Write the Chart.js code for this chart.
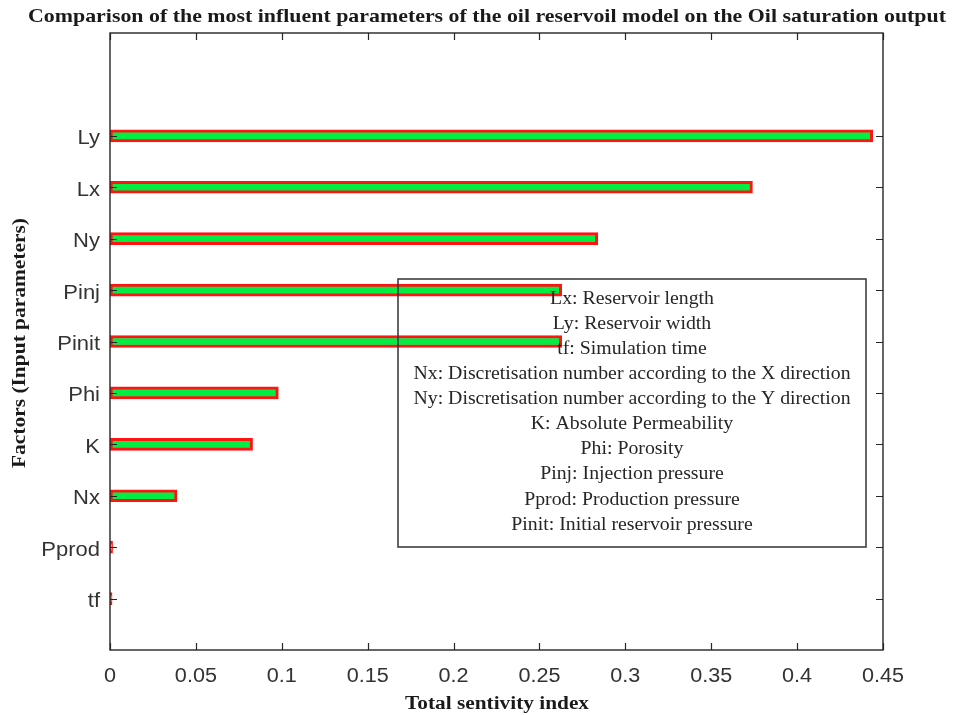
<!DOCTYPE html>
<html>
<head>
<meta charset="utf-8">
<script src="https://cdn.jsdelivr.net/npm/chart.js@4/dist/chart.umd.min.js"></script>
<style>
  html, body { margin: 0; padding: 0; background: #ffffff; }
  #wrap { width: 954px; height: 715px; position: relative; }
</style>
</head>
<body>
<div id="wrap"><canvas id="c" width="954" height="715"></canvas></div>
<script>
// Factors, top to bottom, and their total sensitivity indices
const factors = ['Ly', 'Lx', 'Ny', 'Pinj', 'Pinit', 'Phi', 'K', 'Nx', 'Pprod', 'tf'];
const totalIndex = [0.444, 0.374, 0.284, 0.263, 0.263, 0.098, 0.083, 0.039, 0.0015, 0.0012];
const xTicks = [0, 0.05, 0.1, 0.15, 0.2, 0.25, 0.3, 0.35, 0.4, 0.45];
const legendLines = [
  'Lx: Reservoir length',
  'Ly: Reservoir width',
  'tf: Simulation time',
  'Nx: Discretisation number according to the X direction',
  'Ny: Discretisation number according to the Y direction',
  'K: Absolute Permeability',
  'Phi: Porosity',
  'Pinj: Injection pressure',
  'Pprod: Production pressure',
  'Pinit: Initial reservoir pressure'
];
const titleText = 'Comparison of the most influent parameters of the oil reservoil model on the Oil saturation output';
const xTitle = 'Total sentivity index';
const yTitle = 'Factors (Input parameters)';

// Category axis runs 0..12 with the factors on slots 2..11
const labels = ['', ''].concat(factors, ['']);
const values = [null, null].concat(totalIndex, [null]);

const AXIS = '#262626';
const SERIF = '"Liberation Serif", "DejaVu Serif", serif';
const SANS = '"Liberation Sans", Arial, sans-serif';
const WIDEN = 1.1; // horizontal stretch of every label

// Draws text stretched horizontally, either to a given width or by a factor
function drawText(ctx, text, x, y, opts) {
  ctx.save();
  ctx.font = opts.font;
  ctx.fillStyle = opts.color;
  const w = ctx.measureText(text).width;
  const sx = opts.width ? opts.width / w : (opts.scale || 1);
  ctx.translate(x, y);
  if (opts.rotate) ctx.rotate(-Math.PI / 2);
  ctx.scale(sx, 1);
  ctx.textAlign = opts.align || 'center';
  ctx.textBaseline = 'middle';
  ctx.fillText(text, 0, 0);
  ctx.restore();
}

const decorations = {
  id: 'decorations',
  afterDatasetsDraw(chart) {
    const ctx = chart.ctx;
    const a = chart.chartArea;
    const xs = chart.scales.x, ys = chart.scales.y;
    ctx.save();
    // box outline
    ctx.strokeStyle = AXIS;
    ctx.lineWidth = 1.4;
    ctx.strokeRect(a.left, a.top, a.right - a.left, a.bottom - a.top);
    // inward ticks, mirrored on the opposite sides
    ctx.beginPath();
    xTicks.forEach(v => {
      const px = Math.round(xs.getPixelForValue(v)) + 0.5;
      ctx.moveTo(px, a.bottom); ctx.lineTo(px, a.bottom - 7);
      ctx.moveTo(px, a.top); ctx.lineTo(px, a.top + 7);
    });
    factors.forEach(f => {
      const py = Math.round(ys.getPixelForValue(labels.indexOf(f))) + 0.5;
      ctx.moveTo(a.left, py); ctx.lineTo(a.left + 7, py);
      ctx.moveTo(a.right, py); ctx.lineTo(a.right - 7, py);
    });
    ctx.lineWidth = 1.2;
    ctx.stroke();

    // tick labels
    xTicks.forEach(v => {
      drawText(ctx, String(v), xs.getPixelForValue(v), a.bottom + 26,
        { font: '20px ' + SANS, color: '#333333', scale: 1.08 });
    });
    factors.forEach(f => {
      drawText(ctx, f, 100, ys.getPixelForValue(labels.indexOf(f)) + 3,
        { font: '20px ' + SANS, color: '#333333', scale: WIDEN, align: 'right' });
    });

    // text box with the factor descriptions
    const bx = 398, by = 279, bw = 468, bh = 268;
    ctx.strokeStyle = '#333333';
    ctx.lineWidth = 1.5;
    ctx.strokeRect(bx, by, bw, bh);
    legendLines.forEach((t, i) => drawText(ctx, t, bx + bw / 2, 299 + i * 25.1,
      { font: '18px ' + SERIF, color: '#262626', scale: WIDEN }));

    // titles
    drawText(ctx, titleText, 487, 17, { font: 'bold 19px ' + SERIF, color: '#1a1a1a', width: 918 });
    drawText(ctx, xTitle, 497, 704, { font: 'bold 18px ' + SERIF, color: '#1a1a1a', width: 184 });
    drawText(ctx, yTitle, 20, 343, { font: 'bold 18px ' + SERIF, color: '#1a1a1a', width: 250, rotate: true });
    ctx.restore();
  }
};

new Chart(document.getElementById('c'), {
  type: 'bar',
  data: {
    labels: labels,
    datasets: [{
      data: values,
      backgroundColor: '#00ee44',
      borderColor: '#ff1414',
      borderWidth: 3,
      borderSkipped: false,
      barThickness: 12
    }]
  },
  options: {
    indexAxis: 'y',
    responsive: false,
    animation: false,
    events: [],
    layout: { padding: { top: 33, right: 71, left: 0, bottom: 0 } },
    plugins: { legend: { display: false }, title: { display: false }, tooltip: { enabled: false } },
    scales: {
      x: {
        type: 'linear',
        min: 0, max: 0.45,
        afterBuildTicks(s) { s.ticks = xTicks.map(v => ({ value: v })); },
        afterFit(s) { s.height = 65; },
        grid: { display: false },
        border: { display: false },
        ticks: { display: false }
      },
      y: {
        type: 'category',
        offset: false,
        afterFit(s) { s.width = 110; },
        grid: { display: false },
        border: { display: false },
        ticks: { display: false, autoSkip: false }
      }
    }
  },
  plugins: [decorations]
});
</script>
</body>
</html>
